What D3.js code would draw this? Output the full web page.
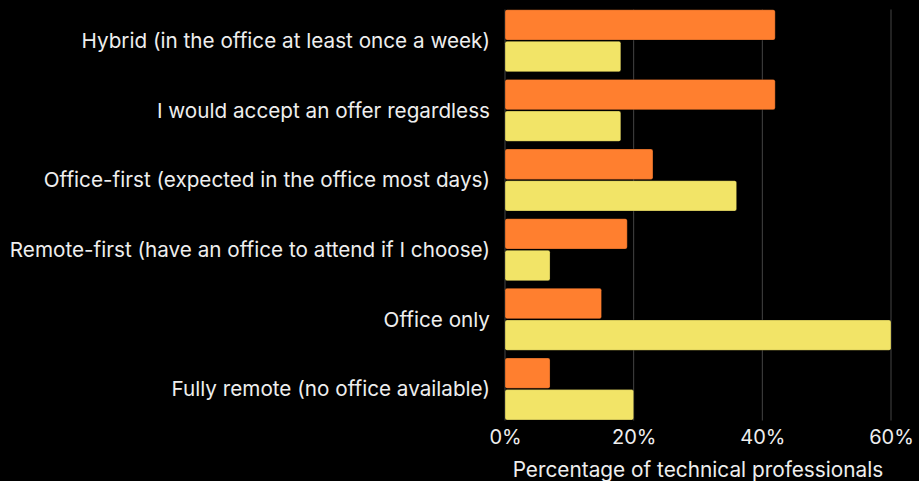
<!DOCTYPE html>
<html><head><meta charset="utf-8">
<script src="https://cdn.jsdelivr.net/npm/d3@7"></script>
<style>
html,body{margin:0;padding:0;background:#000;}
svg{display:block;}
text{font-family:"Inter","Roboto",sans-serif;}
</style></head>
<body><svg id="c" width="919" height="481"></svg>
<script>
const categories = [
  "Hybrid (in the office at least once a week)",
  "I would accept an offer regardless",
  "Office-first (expected in the office most days)",
  "Remote-first (have an office to attend if I choose)",
  "Office only",
  "Fully remote (no office available)"
];
const seriesNames = ["A", "B"];
const seriesA = [42, 42, 23, 19, 15, 7];
const seriesB = [18, 18, 36, 7, 60, 20];
const tickValues = [0, 20, 40, 60];
const axisTitle = "Percentage of technical professionals";
const colors = ["#FF7F2F", "#F2E467"];

const data = categories.map((c, i) => ({cat: c, vals: [seriesA[i], seriesB[i]]}));

const svg = d3.select("#c");
const x = d3.scaleLinear().domain([0, 60]).range([505, 891]);
const y = d3.scaleBand().domain(categories).range([5.9, 423.8]).paddingInner(0.11).paddingOuter(0.055);
const y1 = d3.scaleBand().domain(seriesNames).range([0, y.bandwidth()]).paddingInner(0.04);

// grid
svg.append("g").selectAll("line").data(tickValues).join("line")
  .attr("x1", d => x(d)).attr("x2", d => x(d))
  .attr("y1", 9.5).attr("y2", 420.5)
  .attr("stroke", "#444").attr("stroke-width", 1);

// bars
const g = svg.append("g").selectAll("g").data(data).join("g")
  .attr("transform", d => `translate(0,${y(d.cat)})`);
g.selectAll("rect").data(d => d.vals.map((v, k) => ({v, k}))).join("rect")
  .attr("x", x(0))
  .attr("y", d => y1(seriesNames[d.k]))
  .attr("width", d => x(d.v) - x(0))
  .attr("height", y1.bandwidth())
  .attr("rx", 2).attr("ry", 2)
  .attr("fill", d => colors[d.k])
  .attr("stroke", "rgba(0,0,0,0.35)").attr("stroke-width", 0.8);

// category labels
svg.append("g").selectAll("text").data(categories).join("text")
  .attr("x", 490).attr("y", d => y(d) + y.bandwidth() / 2)
  .attr("dy", "0.35em")
  .attr("text-anchor", "end")
  .attr("fill", "#eeeeee").attr("font-size", 20.7)
  .text(d => d);

// x axis
const xAxis = d3.axisBottom(x).tickValues(tickValues).tickFormat(d => d + "%").tickSize(0).tickPadding(0);
const ax = svg.append("g").attr("transform", "translate(0,426)").call(xAxis);
ax.select(".domain").remove();
ax.selectAll("text").attr("fill", "#eeeeee").attr("font-size", 20)
  .attr("font-family", "Inter, Roboto, sans-serif").attr("dy", "0.71em").attr("y", 4);

svg.append("text").attr("x", (x(0) + x(60)) / 2).attr("y", 477)
  .attr("text-anchor", "middle").attr("fill", "#eeeeee").attr("font-size", 20.8)
  .text(axisTitle);
</script></body></html>
